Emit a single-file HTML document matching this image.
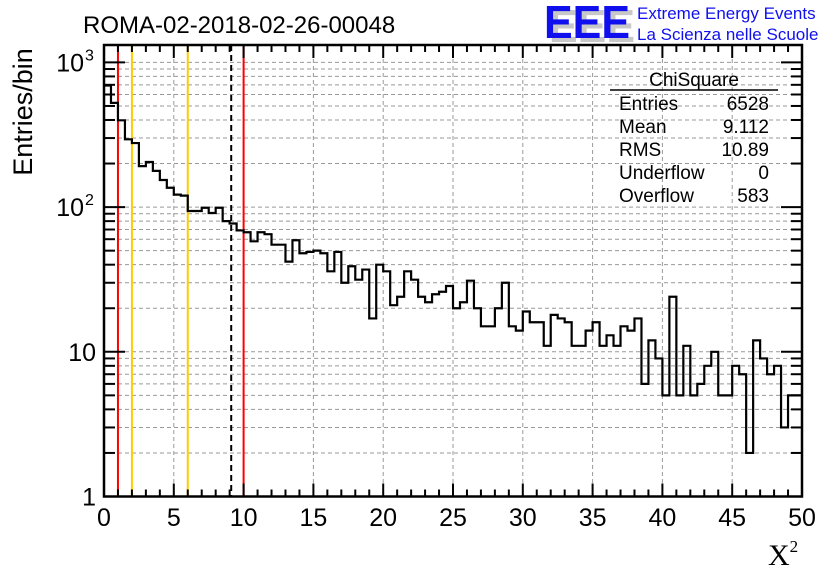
<!DOCTYPE html>
<html><head><meta charset="utf-8"><style>
body{margin:0;background:#fff;}
svg{display:block;font-family:"Liberation Sans",sans-serif;}
</style></head><body>
<svg id="chart" width="836" height="572" viewBox="0 0 836 572" xmlns="http://www.w3.org/2000/svg">
<rect width="836" height="572" fill="#fff"/>
<g id="grid"></g>
<g id="marks"></g>
<g id="axes"></g>
<text x="83" y="33" font-size="24">ROMA-02-2018-02-26-00048</text>
<g>
<text x="549" y="42" font-size="46" font-weight="bold" fill="#c8c8c8" textLength="86" lengthAdjust="spacingAndGlyphs">EEE</text>
<text x="544" y="38" font-size="46" font-weight="bold" fill="#1010ee" textLength="86" lengthAdjust="spacingAndGlyphs">EEE</text>
<text x="637" y="19" font-size="17" fill="#1010ee">Extreme Energy Events</text>
<text x="637" y="40" font-size="17" fill="#1010ee">La Scienza nelle Scuole</text>
</g>
<g font-size="19">
<text x="694" y="86" text-anchor="middle">ChiSquare</text>
<line x1="610" y1="90" x2="778" y2="90" stroke="#000" stroke-width="1.5"/>
<text x="619" y="110">Entries</text><text x="769" y="110" text-anchor="end">6528</text>
<text x="619" y="133">Mean</text><text x="769" y="133" text-anchor="end">9.112</text>
<text x="619" y="156">RMS</text><text x="769" y="156" text-anchor="end">10.89</text>
<text x="619" y="179">Underflow</text><text x="769" y="179" text-anchor="end">0</text>
<text x="619" y="202">Overflow</text><text x="769" y="202" text-anchor="end">583</text>
</g>
<text transform="translate(32,112) rotate(-90)" text-anchor="middle" font-size="27">Entries/bin</text>
<text x="768" y="565" font-size="30" font-family="'Liberation Serif',serif">X<tspan font-size="17" dy="-13">2</tspan></text>
</svg>
<script>
const counts=[692,525,398,294,277,192,205,178,154,136,122,120,94,94,99,91,99,80,77,69,67,58,67,65,55,55,42,59,48,49,50,48,36,49,30,39,31.5,37,17,40,36,21,24,36,31.5,24,22,25,26,28.5,20,22,31,20,15,15,20,30,15,14,19,16,16,11,18,17,16,11,11,14,16,11,13,11,15,14,17,6,12,9,5,24,5,11,5,6,8,10,5,5,8,7,2,12,9,7,8,3,5,5];
const xMin=0,xMax=50,binWidth=0.5;
const xTicks=[0,5,10,15,20,25,30,35,40,45,50];
const yTicks=[1,10,100,1000];
const yTickBase=["1","10","10","10"];
const yTickExp=["","","2","3"];
const vLines=[{x:1,c:"#ff0000"},{x:2,c:"#ffcc00"},{x:6,c:"#ffcc00"},{x:10,c:"#ff0000"}];
const meanValue=9.112;
const L=104,R=802,T=45,B=496.5,dec=144.7;
const X=v=>L+(v-xMin)/(xMax-xMin)*(R-L);
const Y=v=>B-Math.log10(v)*dec;
const NS="http://www.w3.org/2000/svg";
function mk(p,tag,a){const e=document.createElementNS(NS,tag);for(const k in a)e.setAttribute(k,a[k]);(typeof p==='string'?document.getElementById(p):p).appendChild(e);return e;}
for(const t of xTicks){if(t===xMin||t===xMax)continue;
const g=mk('grid','line',{x1:X(t),x2:X(t),y1:T,y2:B,stroke:'#999','stroke-dasharray':'4,3'});

}
for(let d=0;d<4;d++)for(let m=1;m<10;m++){const v=m*Math.pow(10,d);const y=Y(v);if(y<T||v===1)continue;
const g=mk('grid','line',{x1:L,x2:R,y1:y,y2:y,stroke:'#999','stroke-dasharray':'4,3'});


for(const [x0,dir] of [[L,1],[R,-1]]){const len=m===1?21:11;
const tk=mk('axes','line',{x1:x0,x2:x0+dir*len,y1:y,y2:y,stroke:'#000','stroke-width':2});

}}
for(const v of vLines){const l=mk('marks','line',{x1:X(v.x),x2:X(v.x),y1:T,y2:B,stroke:v.c,'stroke-width':2});

}
const ml=mk('marks','line',{x1:X(meanValue),x2:X(meanValue),y1:T,y2:B,stroke:'#000','stroke-width':2,'stroke-dasharray':'6,4'});


let d='M'+X(0)+','+Y(counts[0]);
counts.forEach((c,i)=>{const x0=X(i*binWidth),x1=X((i+1)*binWidth),y=Y(Math.max(c,1));d+=' L'+x0+','+y+' L'+x1+','+y;});
const h=mk('marks','path',{d:d,fill:'none',stroke:'#000','stroke-width':2.2});


const f=mk('axes','rect',{x:L,y:T,width:R-L,height:B-T,fill:'none',stroke:'#000','stroke-width':2.5});


for(let t=xMin;t<=xMax;t+=1){const major=t%5===0;const len=major?13:7;
for(const [y0,dir] of [[B,-1],[T,1]]){const tk=mk('axes','line',{x1:X(t),x2:X(t),y1:y0,y2:y0+dir*len,stroke:'#000','stroke-width':2});

}}
xTicks.forEach(t=>{const tx=mk('axes','text',{x:X(t),y:526,'text-anchor':'middle','font-size':25});tx.textContent=String(t);

});
yTicks.forEach((t,i)=>{const tx=mk('axes','text',{x:yTickExp[i]?84:96,y:Y(t)+9,'text-anchor':'end','font-size':25});tx.textContent=yTickBase[i];


if(yTickExp[i]){const s=mk('axes','text',{x:85,y:Y(t)-2,'font-size':16});s.textContent=yTickExp[i];

}});
</script>
</body></html>
